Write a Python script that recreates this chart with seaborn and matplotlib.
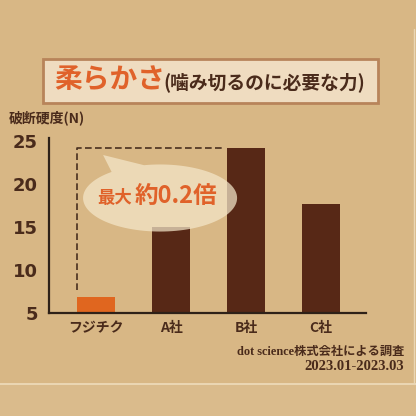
import numpy as np
import pandas as pd
import seaborn as sns
import matplotlib.pyplot as plt
from matplotlib.patches import Rectangle, Polygon

# -----------------------------
# Data
# -----------------------------
makers = ["フジチク", "A社", "B社", "C社"]
hardness = [6.9, 15.0, 24.2, 17.7]
bar_colors = ["#e0661f", "#572816", "#572816", "#572816"]
y_ticks = [5, 10, 15, 20, 25]

title_main = "柔らかさ"
title_sub = "(噛み切るのに必要な力)"
y_label = "破断硬度(N)"
note_lines = ["dot science株式会社による調査", "2023.01-2023.03"]

paper = "#d8b785"
ink = "#4a2b1b"
orange = "#e0622a"

sns.set_style("white")
plt.rcParams['font.family'] = ['Noto Sans CJK JP', 'DejaVu Sans']

df = pd.DataFrame({"maker": makers, "hardness": hardness})

fig = plt.figure(figsize=(4.16, 4.16), dpi=100)
fig.patch.set_facecolor(paper)

# bottom strip of paper
fig.patches.append(Rectangle((0, 0), 1, 0.078, transform=fig.transFigure,
                             facecolor="#dabb8c", edgecolor="none", zorder=0))
fig.add_artist(plt.Line2D([0, 1], [0.078, 0.078], transform=fig.transFigure,
                          color="#eedcbc", lw=1.2))
fig.add_artist(plt.Line2D([0.995, 0.995], [0.078, 0.93], transform=fig.transFigure,
                          color="#ead6b4", lw=1.0))

# title box
fig.patches.append(Rectangle((0.103, 0.752), 0.806, 0.106, transform=fig.transFigure,
                             facecolor="#efdcc0", edgecolor="#b8845a", lw=2, zorder=1))
fig.text(0.13, 0.805, title_main, color=orange, fontsize=20, fontweight="bold",
         ha="left", va="center")
fig.text(0.392, 0.803, title_sub, color=ink, fontsize=13.5, fontweight="bold",
         ha="left", va="center")

fig.text(0.022, 0.716, y_label, color=ink, fontsize=10, fontweight="bold",
         ha="left", va="center")

# -----------------------------
# Bars
# -----------------------------
ax = fig.add_axes([0.118, 0.2476, 0.762, 0.4197])
ax.set_facecolor("none")
sns.barplot(data=df, x="maker", y="hardness", hue="maker", palette=bar_colors,
            width=0.5, saturation=1, linewidth=0, edgecolor="none",
            legend=False, ax=ax, zorder=2)
ax.set_ylim(5, 25.3)
ax.set_xlim(-0.627, 3.6)
ax.set_yticks(y_ticks)
ax.set_yticklabels([str(t) for t in y_ticks],
                   fontdict={"family": "DejaVu Sans", "size": 13, "weight": "bold"})
ax.tick_params(axis="y", length=0, pad=8, colors=ink)
ax.tick_params(axis="x", length=0, pad=6, colors=ink, labelsize=10)
for lbl in ax.get_xticklabels():
    lbl.set_fontweight("bold")
ax.set_xlabel("")
ax.set_ylabel("")
for side in ["top", "right"]:
    ax.spines[side].set_visible(False)
for side in ["left", "bottom"]:
    ax.spines[side].set_color("#2e2118")
    ax.spines[side].set_linewidth(1.6)

# dashed bracket from first bar to B
ax.plot([-0.25, -0.25, 1.72], [7.7, hardness[2], hardness[2]],
        color="#4a3020", lw=1.2, ls=(0, (4, 2)), zorder=1)

# speech bubble
cx, cy, a, b = 0.853, 18.37, 1.027, 3.9
ang = np.deg2rad(np.arange(0, 360, 3))
keep = (ang < np.deg2rad(105)) | (ang > np.deg2rad(126))
pts = []
for t, k in zip(ang, keep):
    if k:
        pts.append((cx + a * np.cos(t), cy + b * np.sin(t)))
    elif not pts or pts[-1] != (0.093, 23.37):
        pts.append((0.093, 23.37))
ax.add_patch(Polygon(pts, closed=True, facecolor="#f4e7ca", edgecolor="none",
                     alpha=0.72, zorder=3))
fig.text(0.235, 0.513, "最大", color=orange, fontsize=12.5, fontweight="bold",
         ha="left", va="baseline")
fig.text(0.323, 0.513, "約0.2倍", color=orange, fontsize=17, fontweight="bold",
         ha="left", va="baseline")

# source note
serif = ["Liberation Serif", "Noto Sans CJK JP"]
fig.text(0.971, 0.154, note_lines[0], color=ink, fontsize=8.8, fontweight="bold",
         family=serif, ha="right", va="center")
fig.text(0.971, 0.118, note_lines[1], color=ink, fontsize=10.5, fontweight="bold",
         family=serif, ha="right", va="center")

plt.savefig("out.png", dpi=100, facecolor=fig.get_facecolor())
